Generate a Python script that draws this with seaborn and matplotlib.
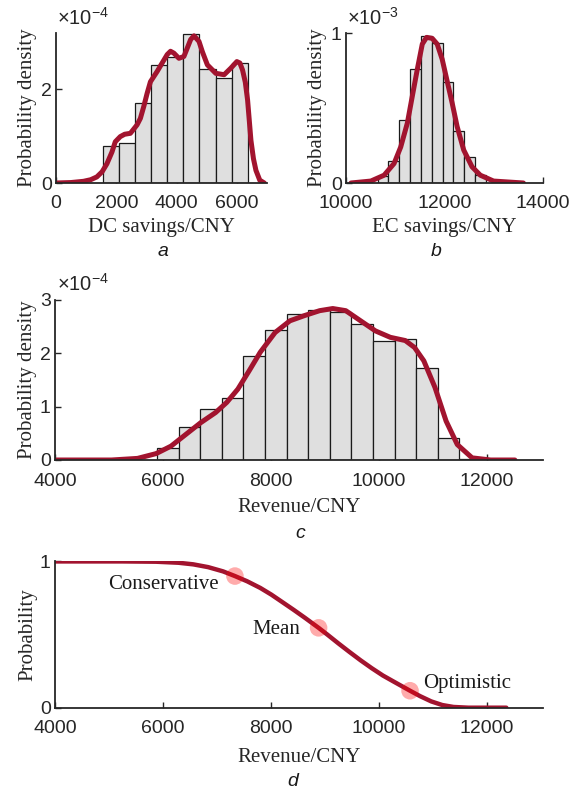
import numpy as np
import pandas as pd
import matplotlib
matplotlib.use("Agg")
import matplotlib.pyplot as plt
import seaborn as sns

# ---------------- data ----------------
# (a) DC savings: histogram (density, x1e-4) and smoothed density curve
dc_bin_range = (1560, 6360)
dc_density = [0.79, 0.86, 1.71, 2.51, 2.69, 3.18, 2.43, 2.25, 2.56]
dc_kde_x = [0, 500, 911, 1150, 1355, 1530, 1689, 1856, 1967, 2133, 2278, 2467, 2689,
            2800, 2911, 3022, 3133, 3356, 3522, 3689, 3800, 3911, 4078, 4244, 4356,
            4467, 4578, 4744, 4856, 5022, 5300, 5578, 5800, 6000, 6100, 6189, 6280,
            6356, 6467, 6550, 6633, 6760, 6911]
dc_kde_y = [0.0, 0.01, 0.036, 0.07, 0.13, 0.24, 0.41, 0.66, 0.88, 0.99, 1.04, 1.06,
            1.24, 1.38, 1.63, 1.91, 2.16, 2.38, 2.56, 2.74, 2.81, 2.77, 2.66, 2.70,
            2.88, 3.06, 3.14, 3.02, 2.80, 2.52, 2.34, 2.31, 2.45, 2.59, 2.56, 2.41,
            2.15, 1.77, 0.91, 0.52, 0.27, 0.06, 0.0]

# (b) EC savings: histogram (density, x1e-3) and smoothed density curve
ec_bin_range = (10640, 12840)
ec_density = [0.045, 0.148, 0.417, 0.763, 0.978, 0.931, 0.673, 0.348, 0.171, 0.056]
ec_kde_x = [10101, 10505, 10774, 10976, 11111, 11246, 11347, 11448, 11549, 11636,
            11751, 11852, 11953, 12054, 12155, 12256, 12390, 12559, 12727, 12996, 13602]
ec_kde_y = [0.0, 0.013, 0.052, 0.13, 0.24, 0.40, 0.58, 0.758, 0.926, 0.971,
            0.964, 0.926, 0.825, 0.679, 0.534, 0.377, 0.22, 0.108, 0.052, 0.013, 0.0]

# (c) Revenue: histogram (density, x1e-4) and smoothed density curve
rev_bin_range = (5890, 11890)
rev_density = [0.22, 0.62, 0.96, 1.17, 1.95, 2.44, 2.74, 2.81, 2.78, 2.55,
               2.24, 2.26, 1.72, 0.42, 0.025]
rev_kde_x = [4000, 5047, 5529, 5873, 6149, 6424, 6700, 6975, 7182, 7388, 7595, 7802,
             8077, 8352, 8628, 8903, 9145, 9386, 9661, 9937, 10212, 10488, 10660,
             10832, 11039, 11245, 11452, 11727, 12071, 12519]
rev_kde_y = [0.0, 0.0, 0.03, 0.12, 0.26, 0.48, 0.70, 0.89, 1.08, 1.33, 1.67, 2.02,
             2.39, 2.61, 2.71, 2.80, 2.84, 2.80, 2.61, 2.42, 2.30, 2.24, 2.11,
             1.86, 1.36, 0.73, 0.29, 0.04, 0.0, 0.0]

# (d) Exceedance probability of revenue
exc_x = [4000, 5253, 5873, 6287, 6562, 6837, 7113, 7333, 7561, 7802, 8008, 8215,
         8421, 8628, 8883, 9041, 9248, 9455, 9661, 9868, 10074, 10281, 10577,
         10763, 10970, 11176, 11383, 11658, 12361]
exc_p = [1.0, 1.0, 0.998, 0.991, 0.98, 0.961, 0.932, 0.90, 0.864, 0.819, 0.773, 0.721,
         0.669, 0.615, 0.546, 0.501, 0.44, 0.381, 0.324, 0.27, 0.22, 0.177, 0.116,
         0.079, 0.043, 0.018, 0.005, 0.0, 0.0]
scenario_names = ["Conservative", "Mean", "Optimistic"]
scenario_revenue = [7333, 8883, 10577]
scenario_prob = [0.90, 0.546, 0.116]

# ---------------- style ----------------
sns.set_style("ticks")
plt.rcParams.update({
    "font.family": ["Liberation Sans", "DejaVu Sans"],
    "mathtext.fontset": "custom",
    "mathtext.rm": "Liberation Sans",
    "mathtext.it": "Liberation Sans:italic",
    "axes.edgecolor": "#262626",
    "axes.linewidth": 1.3,
    "xtick.color": "#262626",
    "ytick.color": "#262626",
})

RED = "#A2142F"
BAR = "#DFDFDF"
EDGE = "#1a1a1a"
SERIF = ["Liberation Serif", "DejaVu Serif"]
TICK_FS = 14
LABEL_FS = 15

fig = plt.figure(figsize=(5.84, 7.95), dpi=100)
W, H = 584.0, 795.0


def add_ax(left, top, right, bottom):
    return fig.add_axes([left / W, 1 - bottom / H, (right - left) / W, (bottom - top) / H])


def style_axis(ax, xlabel, ylabel, xlab_y, ylab_x):
    sns.despine(ax=ax)
    ax.tick_params(direction="in", length=4, width=1.0, labelsize=TICK_FS)
    ax.tick_params(axis="x", pad=9)
    ax.tick_params(axis="y", pad=3)
    ax.set_xlabel(xlabel, fontsize=LABEL_FS, family=SERIF, color="#262626")
    ax.set_ylabel(ylabel, fontsize=LABEL_FS, family=SERIF, color="#262626")
    ax.xaxis.set_label_coords(0.5, xlab_y)
    ax.yaxis.set_label_coords(ylab_x, 0.5)


def hist_panel(ax, brange, dens, scale, kx, ky):
    n = len(dens)
    edges = np.linspace(brange[0], brange[1], n + 1)
    bins = pd.DataFrame({"value": (edges[:-1] + edges[1:]) / 2,
                         "density": np.asarray(dens) * scale})
    sns.histplot(data=bins, x="value", weights="density", bins=n, binrange=brange,
                 stat="count", color=BAR, edgecolor=EDGE, linewidth=0.9, alpha=1.0, ax=ax)
    curve = pd.DataFrame({"value": kx, "density": np.asarray(ky) * scale})
    sns.lineplot(data=curve, x="value", y="density", color=RED, lw=3.6, ax=ax,
                 solid_capstyle="round", solid_joinstyle="round")


def exponent(ax, p):
    ax.text(0.005, 1.03, r"$\times10^{%d}$" % p, transform=ax.transAxes,
            ha="left", va="bottom", fontsize=14.5, color="#262626")


# ---- (a)
ax_a = add_ax(56, 33, 267, 183)
hist_panel(ax_a, dc_bin_range, dc_density, 1e-4, dc_kde_x, dc_kde_y)
ax_a.set_xlim(0, 7000)
ax_a.set_ylim(0, 3.2e-4)
ax_a.set_xticks([0, 2000, 4000, 6000])
ax_a.set_yticks([0, 2e-4])
ax_a.set_yticklabels(["0", "2"])
style_axis(ax_a, "DC savings/CNY", "Probability density", -0.235, -0.088)
exponent(ax_a, -4)

# ---- (b)
ax_b = add_ax(346, 33, 543, 183)
hist_panel(ax_b, ec_bin_range, ec_density, 1e-3, ec_kde_x, ec_kde_y)
ax_b.set_xlim(10000, 14000)
ax_b.set_ylim(0, 1e-3)
ax_b.set_xticks([10000, 12000, 14000])
ax_b.set_yticks([0, 1e-3])
ax_b.set_yticklabels(["0", "1"])
style_axis(ax_b, "EC savings/CNY", "Probability density", -0.235, -0.094)
exponent(ax_b, -3)

# ---- (c)
ax_c = add_ax(55, 300, 543, 460)
hist_panel(ax_c, rev_bin_range, rev_density, 1e-4, rev_kde_x, rev_kde_y)
ax_c.set_xlim(4000, 13040)
ax_c.set_ylim(0, 3e-4)
ax_c.set_xticks([4000, 6000, 8000, 10000, 12000])
ax_c.set_yticks([0, 1e-4, 2e-4, 3e-4])
ax_c.set_yticklabels(["0", "1", "2", "3"])
style_axis(ax_c, "Revenue/CNY", "Probability density", -0.238, -0.037)
exponent(ax_c, -4)

# ---- (d)
ax_d = add_ax(55, 560.7, 543, 707.7)
exc = pd.DataFrame({"revenue": exc_x, "probability": exc_p})
sns.lineplot(data=exc, x="revenue", y="probability", color=RED, lw=3.2, ax=ax_d,
             solid_capstyle="round", solid_joinstyle="round")
scen = pd.DataFrame({"revenue": scenario_revenue, "probability": scenario_prob})
sns.scatterplot(data=scen, x="revenue", y="probability", s=160, color="#FF0000",
                alpha=0.33, edgecolor="none", ax=ax_d, zorder=3)
offsets = [(-11.5, -6, "right"), (-13.4, -1.5, "right"), (9.4, 5.3, "left")]
for name, xv, pv, (dx, dy, ha) in zip(scenario_names, scenario_revenue, scenario_prob, offsets):
    ax_d.annotate(name, (xv, pv), xytext=(dx, dy), textcoords="offset points",
                  ha=ha, va="center", fontsize=LABEL_FS, family=SERIF, color="#1a1a1a")
ax_d.set_xlim(4000, 13040)
ax_d.set_ylim(0, 1.005)
ax_d.set_xticks([4000, 6000, 8000, 10000, 12000])
ax_d.set_yticks([0, 1])
style_axis(ax_d, "Revenue/CNY", "Probability", -0.275, -0.037)

# ---- panel letters
for letter, (px, py) in zip("abcd", [(163, 252), (436, 252), (300, 533), (293, 782)]):
    fig.text(px / W, 1 - py / H, letter, ha="center", va="center", fontsize=TICK_FS,
             style="italic", color="#1a1a1a")

fig.savefig("out.png", dpi=100)
